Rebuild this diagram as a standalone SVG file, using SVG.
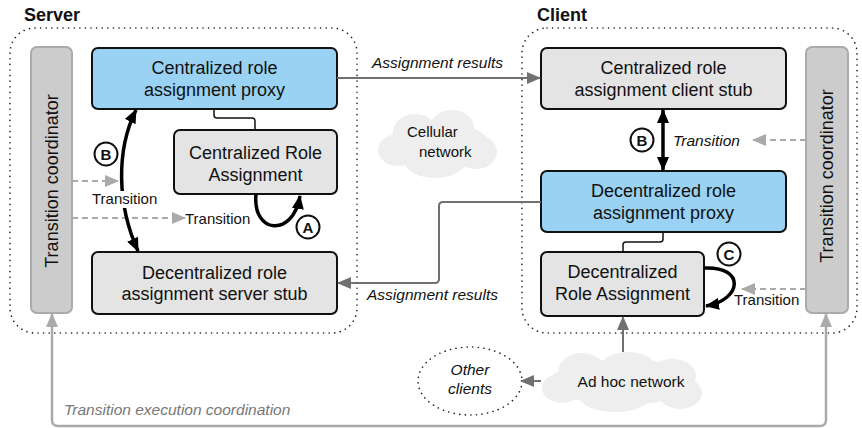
<svg xmlns="http://www.w3.org/2000/svg" width="862" height="428" viewBox="0 0 862 428">
<style>
text{font-family:"Liberation Sans",Arial,sans-serif;fill:#111}
.t{font-size:18px;text-anchor:middle}
.lbl{font-size:15px}
.it{font-size:15.5px;font-style:italic}
.title{font-size:18px;font-weight:bold}
.box{stroke:#111;stroke-width:2}
.blue{fill:#99d2f2}
.grey{fill:#e4e4e4}
.coord{fill:#cccccc;stroke:#aaaaaa;stroke-width:2}
.cont{fill:none;stroke:#222;stroke-width:1.6;stroke-dasharray:0.1 5.5;stroke-linecap:round}
.thick{fill:none;stroke:#000;stroke-width:3.5}
.thin{fill:none;stroke:#111;stroke-width:1.5}
.res{fill:none;stroke:#707070;stroke-width:2}
.dash{fill:none;stroke:#aaaaaa;stroke-width:2;stroke-dasharray:6 4}
.co{fill:none;stroke:#aaaaaa;stroke-width:2.5}
.circ{fill:#fff;stroke:#111;stroke-width:2}
.letter{font-size:15px;font-weight:bold;text-anchor:middle}
.cloud{fill:#eeeeee}
</style>
<defs>
<marker id="ab" markerUnits="userSpaceOnUse" markerWidth="14" markerHeight="12" refX="13" refY="6" orient="auto-start-reverse"><path d="M0,0 L14,6 L0,12 z" fill="#000"/></marker>
<marker id="ag" markerUnits="userSpaceOnUse" markerWidth="14" markerHeight="12" refX="13" refY="6" orient="auto-start-reverse"><path d="M0,0 L14,6 L0,12 z" fill="#707070"/></marker>
<marker id="al" markerUnits="userSpaceOnUse" markerWidth="14" markerHeight="12" refX="13" refY="6" orient="auto-start-reverse"><path d="M0,0 L14,6 L0,12 z" fill="#aaaaaa"/></marker>
</defs>
<rect width="862" height="428" fill="#fff"/>

<g id="server-container">
<rect class="cont" x="10" y="28" width="347" height="305" rx="25"/>
<text class="title" x="24" y="21">Server</text>
</g>
<g id="client-container">
<rect class="cont" x="522" y="28" width="335" height="305" rx="25"/>
<text class="title" x="537" y="21">Client</text>
</g>

<g id="cellular-network">
<g class="cloud">
<ellipse cx="438" cy="146" rx="52" ry="24"/>
<ellipse cx="415" cy="132" rx="22" ry="18"/>
<ellipse cx="452" cy="128" rx="22" ry="18"/>
<ellipse cx="398" cy="150" rx="20" ry="16"/>
<ellipse cx="476" cy="152" rx="21" ry="17"/>
<ellipse cx="435" cy="162" rx="30" ry="16"/>
</g>
<text class="lbl" x="407" y="137">Cellular</text>
<text class="lbl" x="419" y="157">network</text>
</g>

<g id="adhoc-network">
<g class="cloud">
<ellipse cx="622" cy="382" rx="72" ry="23"/>
<ellipse cx="582" cy="372" rx="24" ry="19"/>
<ellipse cx="628" cy="368" rx="28" ry="16"/>
<ellipse cx="672" cy="376" rx="24" ry="17"/>
<ellipse cx="562" cy="388" rx="20" ry="15"/>
<ellipse cx="615" cy="396" rx="36" ry="16"/>
<ellipse cx="680" cy="393" rx="22" ry="16"/>
</g>
<text class="lbl" x="631" y="387" style="text-anchor:middle;font-size:15.5px">Ad hoc network</text>
</g>

<g id="other-clients">
<ellipse class="cont" cx="470" cy="381" rx="52" ry="34"/>
<text class="it" x="470" y="375" text-anchor="middle">Other</text>
<text class="it" x="470" y="394" text-anchor="middle">clients</text>
</g>

<g id="server-coordinator">
<rect class="coord" x="31" y="47" width="41" height="266" rx="6"/>
<text class="t" transform="translate(52,181) rotate(-90)" dominant-baseline="central">Transition coordinator</text>
</g>
<g id="client-coordinator">
<rect class="coord" x="806" y="47" width="42" height="266" rx="6"/>
<text class="t" transform="translate(827,176) rotate(-90)" dominant-baseline="central">Transition coordinator</text>
</g>

<g id="central-proxy">
<rect class="box blue" x="92" y="48" width="245" height="61" rx="6"/>
<text class="t" x="214.5" y="74">Centralized role</text>
<text class="t" x="214.5" y="96">assignment proxy</text>
</g>
<g id="central-ra">
<rect class="box grey" x="174" y="130" width="163" height="64" rx="6"/>
<text class="t" x="255.5" y="159">Centralized Role</text>
<text class="t" x="255.5" y="181">Assignment</text>
</g>
<g id="server-stub">
<rect class="box grey" x="92" y="252" width="245" height="62" rx="6"/>
<text class="t" x="214.5" y="279">Decentralized role</text>
<text class="t" x="214.5" y="300">assignment server stub</text>
</g>
<g id="client-stub">
<rect class="box grey" x="541" y="48" width="245" height="61" rx="6"/>
<text class="t" x="663.5" y="74">Centralized role</text>
<text class="t" x="663.5" y="96">assignment client stub</text>
</g>
<g id="decentral-proxy">
<rect class="box blue" x="541" y="171" width="245" height="61" rx="6"/>
<text class="t" x="663.5" y="197">Decentralized role</text>
<text class="t" x="663.5" y="219">assignment proxy</text>
</g>
<g id="decentral-ra">
<rect class="box grey" x="541" y="252" width="163" height="64" rx="6"/>
<text class="t" x="622.5" y="278">Decentralized</text>
<text class="t" x="622.5" y="300">Role Assignment</text>
</g>

<g id="connectors">
<path class="thin" d="M214,109 V115 Q214,118 217,118 H252 Q255,118 255,121 V130"/>
<path class="thin" d="M663,232 V239 Q663,242 660,242 H626 Q623,242 623,245 V252"/>
<path class="res" d="M337,78 H540" marker-end="url(#ag)"/>
<text class="it" x="372" y="68">Assignment results</text>
<path class="res" d="M541,202 H443 Q439,202 439,206 V279 Q439,283 435,283 H338" marker-end="url(#ag)"/>
<text class="it" x="367" y="300">Assignment results</text>
<path class="res" d="M623,352 V317" marker-end="url(#ag)"/>
<path class="res" d="M541,381 H521" marker-end="url(#ag)"/>
<path class="co" d="M52,314 V420 Q52,426 58,426 H820 Q826,426 826,420 V314" marker-start="url(#al)" marker-end="url(#al)"/>
<text class="it" x="64" y="415" style="fill:#777">Transition execution coordination</text>

<path class="dash" d="M72,181 H118" marker-end="url(#al)"/>
<path class="dash" d="M72,218 H185" marker-end="url(#al)"/>
<text class="lbl" x="185" y="224">Transition</text>
<path class="dash" d="M806,140 H753" marker-end="url(#al)"/>
<path class="dash" d="M806,289 H742" marker-end="url(#al)"/>
<text class="lbl" x="734" y="305">Transition</text>

<path class="thick" d="M136,110 C116,150 117,205 138,251" marker-start="url(#ab)" marker-end="url(#ab)"/>
<rect x="90" y="191" width="69" height="17" fill="#fff"/>
<text class="lbl" x="92" y="204">Transition</text>
<circle class="circ" cx="106" cy="154" r="11.5"/>
<text class="letter" x="106" y="159.5">B</text>

<path class="thick" d="M256,194 C252,234 293,238 300,196" marker-end="url(#ab)"/>
<circle class="circ" cx="308" cy="227" r="11.5"/>
<text class="letter" x="308" y="232.5">A</text>

<path class="thick" d="M663,110 V170" marker-start="url(#ab)" marker-end="url(#ab)"/>
<circle class="circ" cx="642" cy="140" r="11.5"/>
<text class="letter" x="642" y="145.5">B</text>
<text class="it" x="673" y="146">Transition</text>

<path class="thick" d="M704,268 C746,266 742,300 706,306" marker-end="url(#ab)"/>
<circle class="circ" cx="729" cy="254" r="11.5"/>
<text class="letter" x="729" y="259.5">C</text>
</g>
</svg>
